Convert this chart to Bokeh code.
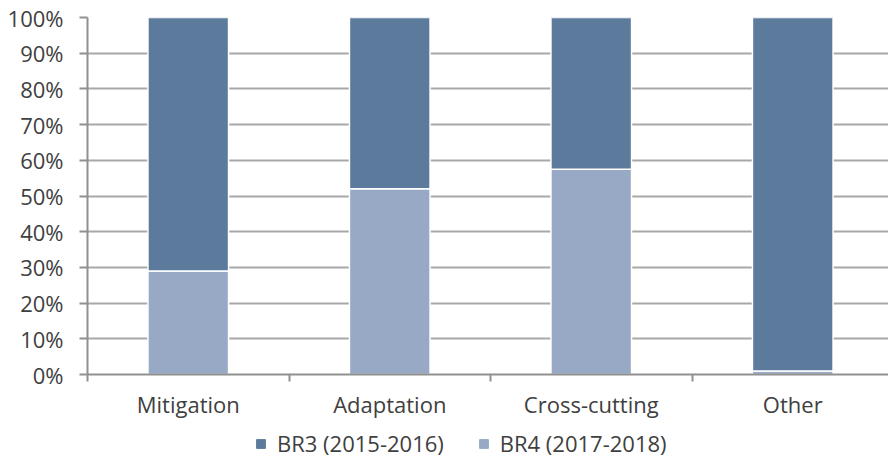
from bokeh.plotting import figure
from bokeh.layouts import column
from bokeh.models import (ColumnDataSource, Range1d, FixedTicker, NumeralTickFormatter,
                          Legend, LegendItem)
from bokeh.embed import file_html
from bokeh.resources import INLINE

categories = ["Mitigation", "Adaptation", "Cross-cutting", "Other"]
br4 = [0.29, 0.52, 0.575, 0.01]
br3 = [1 - v for v in br4]
series_labels = ["BR3 (2015-2016)", "BR4 (2017-2018)"]
y_ticks = [i / 10 for i in range(11)]

DARK = "#5c7b9c"
LIGHT = "#97a9c4"
FONT = "Open Sans"
TXT = "#404040"
FS = "22px"

xpos = [i + 0.5 for i in range(len(categories))]
source = ColumnDataSource(dict(x=xpos, br4=br4, br3=br3))

p = figure(width=888, height=425, output_backend="svg", toolbar_location=None,
           x_range=Range1d(0, 801 / 201.5), y_range=Range1d(0, 1),
           min_border_left=87, min_border_right=0, min_border_top=17,
           min_border_bottom=51)
p.outline_line_color = None

rs = p.vbar_stack(["br4", "br3"], x="x", width=0.4, source=source,
                  color=[LIGHT, DARK], line_color="white", line_width=1.5)

# y axis
p.yaxis.ticker = FixedTicker(ticks=y_ticks)
p.yaxis.formatter = NumeralTickFormatter(format="0%")
p.yaxis.axis_line_color = "#909090"
p.yaxis.axis_line_width = 2
p.yaxis.major_tick_line_color = "#909090"
p.yaxis.major_tick_line_width = 2
p.yaxis.major_tick_out = 8
p.yaxis.major_tick_in = 0
p.yaxis.minor_tick_line_color = None
p.yaxis.major_label_text_font = FONT
p.yaxis.major_label_text_font_size = FS
p.yaxis.major_label_text_color = TXT
p.yaxis.major_label_standoff = 16

# x axis
p.xaxis.ticker = FixedTicker(ticks=xpos, minor_ticks=list(range(len(categories) + 1)))
p.xaxis.major_label_overrides = {x: c for x, c in zip(xpos, categories)}
p.xaxis.axis_line_color = "#909090"
p.xaxis.axis_line_width = 2
p.xaxis.major_tick_line_color = None
p.xaxis.major_tick_out = 0
p.xaxis.major_tick_in = 0
p.xaxis.minor_tick_line_color = "#909090"
p.xaxis.minor_tick_line_width = 2
p.xaxis.minor_tick_out = 7
p.xaxis.minor_tick_in = 0
p.xaxis.major_label_text_font = FONT
p.xaxis.major_label_text_font_size = FS
p.xaxis.major_label_text_color = TXT
p.xaxis.major_label_standoff = 7

p.xgrid.grid_line_color = None
p.ygrid.ticker = FixedTicker(ticks=y_ticks)
p.ygrid.grid_line_color = "#a8a8a8"
p.ygrid.grid_line_width = 2

# legend strip (its own small figure below the chart)
leg = figure(width=888, height=33, output_backend="svg", toolbar_location=None,
             x_range=Range1d(100, 101), y_range=Range1d(100, 101),
             min_border=0)
leg.axis.visible = False
leg.grid.visible = False
leg.outline_line_color = None
lr = leg.vbar_stack(["br4", "br3"], x="x", width=0.4, source=source,
                    color=[LIGHT, DARK])

legend = Legend(items=[LegendItem(label=series_labels[0], renderers=[lr[1]]),
                       LegendItem(label=series_labels[1], renderers=[lr[0]])],
                orientation="horizontal", location=(168, 0))
legend.label_text_font = FONT
legend.label_text_font_size = FS
legend.label_text_color = TXT
legend.glyph_width = 11
legend.glyph_height = 11
legend.label_standoff = 11
legend.spacing = 34
legend.border_line_color = None
legend.background_fill_alpha = 0
legend.padding = 0
legend.margin = 0
leg.add_layout(legend, "center")

layout = column(p, leg, spacing=0)
open("out.html", "w").write(file_html(layout, INLINE))
